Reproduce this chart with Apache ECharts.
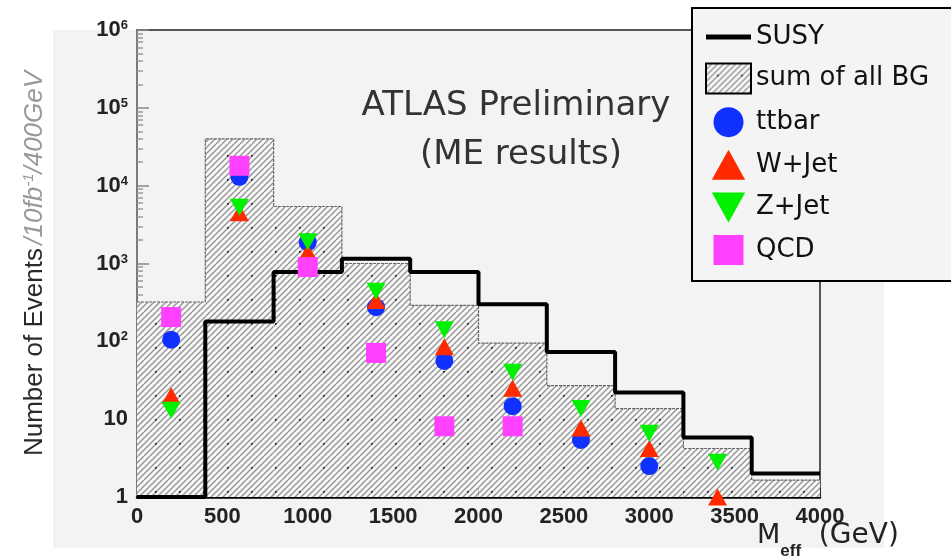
<!DOCTYPE html>
<html>
<head>
<meta charset="utf-8">
<script src="https://cdn.jsdelivr.net/npm/echarts@6/dist/echarts.min.js"></script>
<style>
html,body{margin:0;padding:0;background:#fff;}
#chart{width:951px;height:557px;}
</style>
</head>
<body>
<div id="chart"></div>
<script>
// ---- data ----
const binLow    = [0, 400, 800, 1200, 1600, 2000, 2400, 2800, 3200, 3600];
const binHigh   = [400, 800, 1200, 1600, 2000, 2400, 2800, 3200, 3600, 4000];
const binCenter = [200, 600, 1000, 1400, 1800, 2200, 2600, 3000, 3400, 3800];
const sumBG = [320, 40000, 5400, 1000, 290, 95, 27, 13.7, 4.2, 1.65];
const susy  = [1, 180, 780, 1150, 780, 300, 73, 22, 5.8, 2.0];
const ttbar = [105, 13000, 1880, 275, 56, 14.7, 5.4, 2.5, null, null];
const wjet  = [20, 4500, 1400, 335, 85, 25, 7.7, 4.2, 1.0, null];
const zjet  = [13, 5300, 1900, 440, 141, 40, 13.7, 6.6, 2.8, null];
const qcd   = [205, 18000, 900, 71, 8.1, 8.1, null, null, null, null];
const legendNames = ['SUSY', 'sum of all BG', 'ttbar', 'W+Jet', 'Z+Jet', 'QCD'];

// ---- helpers ----
function hatch() {
  const c = document.createElement('canvas');
  c.width = 24; c.height = 24;
  const g = c.getContext('2d');
  g.fillStyle = '#f8f8f8'; g.fillRect(0, 0, 24, 24);
  g.strokeStyle = '#959595'; g.lineWidth = 1.4;
  for (let k = -24; k <= 48; k += 6) {
    g.beginPath(); g.moveTo(k, 24); g.lineTo(k + 24, 0); g.stroke();
  }
  g.fillStyle = '#111'; g.fillRect(11, 11, 1.6, 1.6);
  return c;
}
const hatchFill = { image: hatch(), repeat: 'repeat' };
const pts = (arr) => binCenter.map((x, i) => [x, arr[i]]).filter(p => p[1] != null);
const stepPts = (arr) => binLow.map((x, i) => [x, arr[i]]).concat([[binHigh[binHigh.length - 1], arr[arr.length - 1]]]);
const histData = binLow.map((x, i) => [x, binHigh[i], sumBG[i]]);

const tickFont = "'Liberation Sans Narrow', 'Liberation Sans', Arial, sans-serif";
const chart = echarts.init(document.getElementById('chart'), null, { renderer: 'canvas' });

chart.setOption({
  backgroundColor: '#ffffff',
  animation: false,
  graphic: [
    { type: 'rect', z: -10, silent: true, shape: { x: 53, y: 30, width: 831, height: 518 }, style: { fill: '#f3f3f3' } },
    { type: 'text', z: 10, silent: true, style: { text: 'ATLAS Preliminary', x: 516, y: 89, textAlign: 'center', fontFamily: 'DejaVu Sans', fontSize: 34, fill: '#333' } },
    { type: 'text', z: 10, silent: true, style: { text: '(ME results)', x: 521, y: 138, textAlign: 'center', fontFamily: 'DejaVu Sans', fontSize: 34, fill: '#333' } },
    { type: 'text', z: 10, silent: true, style: { x: 757, y: 522, text: '{m|M}{s|eff}{g|  (GeV)}',
        rich: {
          m: { fontFamily: 'DejaVu Sans', fontSize: 27, fill: '#222', verticalAlign: 'top', lineHeight: 30 },
          s: { fontFamily: tickFont, fontSize: 17, fontWeight: 'bold', fill: '#222', verticalAlign: 'bottom', lineHeight: 30, padding: [0, 0, -8, 0] },
          g: { fontFamily: 'DejaVu Sans', fontSize: 28, fill: '#222', verticalAlign: 'top', lineHeight: 30 }
        } } }
  ],
  grid: { left: 137, right: 131, top: 30, bottom: 60, show: true, borderColor: '#555', borderWidth: 2, backgroundColor: 'transparent' },
  legend: {
    orient: 'vertical', left: 692, top: 8, selectedMode: false,
    padding: [16, 60, 16, 13], itemWidth: 45, itemHeight: 30, itemGap: 12.6,
    backgroundColor: '#f4f4f4', borderColor: '#000', borderWidth: 2,
    textStyle: { fontFamily: 'DejaVu Sans', fontSize: 26, color: '#111' },
    data: [
      { name: 'SUSY', icon: 'path://M0,0L45,0L45,5L0,5Z' },
      { name: 'sum of all BG', icon: 'rect', itemStyle: { borderColor: '#000', borderWidth: 2 } },
      { name: 'ttbar' }, { name: 'W+Jet' }, { name: 'Z+Jet' }, { name: 'QCD' }
    ]
  },
  xAxis: {
    type: 'value', min: 0, max: 4000, interval: 500,
    axisLine: { lineStyle: { color: '#000', width: 2.5 } },
    axisTick: { inside: true, length: 9, lineStyle: { color: '#222', width: 1 } },
    minorTick: { show: true, splitNumber: 5, length: 5, lineStyle: { color: '#444' } },
    splitLine: { show: false },
    axisLabel: { margin: 9, fontFamily: tickFont, fontWeight: 'bold', fontSize: 22, color: '#222',
      formatter: function (v) { return String(v); } }
  },
  yAxis: {
    type: 'log', logBase: 10, min: 1, max: 1e6, splitNumber: 6,
    name: '{a|Number of Events} {b|/10fb}{c|-1}{b|/400GeV}',
    nameLocation: 'middle', nameGap: 88,
    nameTextStyle: {
      rich: {
        a: { fontFamily: tickFont, fontSize: 26, color: '#2a2a2a', lineHeight: 28 },
        b: { fontFamily: tickFont, fontSize: 26, color: '#999', fontStyle: 'italic', lineHeight: 28 },
        c: { fontFamily: tickFont, fontSize: 15, color: '#999', fontStyle: 'italic', verticalAlign: 'top', lineHeight: 15 }
      }
    },
    axisLine: { lineStyle: { color: '#888', width: 1.5 } },
    axisTick: { inside: true, length: 12, lineStyle: { color: '#888', width: 1.5 } },
    minorTick: { show: true, splitNumber: 9, length: 6, lineStyle: { color: '#999', width: 1.5 } },
    splitLine: { show: false },
    axisLabel: {
      margin: 9, fontFamily: tickFont, fontWeight: 'bold', fontSize: 22, color: '#222',
      formatter: function (v) {
        const e = Math.round(Math.log10(v));
        if (e === 0) return '1';
        if (e === 1) return '10';
        return '10{sup|' + e + '}';
      },
      rich: { sup: { fontFamily: tickFont, fontWeight: 'bold', fontSize: 13, color: '#222', verticalAlign: 'top', lineHeight: 12 } }
    }
  },
  series: [
    {
      name: 'sum of all BG', type: 'custom', coordinateSystem: 'cartesian2d',
      itemStyle: { color: hatchFill },
      encode: { x: [0, 1], y: 2 },
      data: histData,
      renderItem: function (params, api) {
        const p0 = api.coord([api.value(0), api.value(2)]);
        const p1 = api.coord([api.value(1), 1]);
        return { type: 'rect', shape: { x: p0[0], y: p0[1], width: p1[0] - p0[0], height: p1[1] - p0[1] },
                 style: { fill: hatchFill } };
      },
      z: 1
    },
    {
      name: 'BG outline', type: 'line', step: 'end', symbol: 'none', data: stepPts(sumBG),
      lineStyle: { color: '#666', width: 1.2, type: [3, 1] }, z: 2
    },
    {
      name: 'SUSY', type: 'line', step: 'end', symbol: 'none', data: stepPts(susy),
      itemStyle: { color: '#000' }, lineStyle: { color: '#000', width: 4 }, z: 3
    },
    { name: 'ttbar', type: 'scatter', symbol: 'circle', symbolSize: 18, data: pts(ttbar), itemStyle: { color: '#1030ff', opacity: 1 }, z: 4 },
    { name: 'W+Jet', type: 'scatter', symbol: 'path://M5,0L10,9L0,9Z', symbolSize: [19, 17], data: pts(wjet), itemStyle: { color: '#ff2a00', opacity: 1 }, z: 4 },
    { name: 'Z+Jet', type: 'scatter', symbol: 'path://M0,0L10,0L5,9Z', symbolSize: [19, 17], data: pts(zjet), itemStyle: { color: '#00f000', opacity: 1 }, z: 4 },
    { name: 'QCD', type: 'scatter', symbol: 'path://M0,0L10,0L10,10L0,10Z', symbolSize: 20, data: pts(qcd), itemStyle: { color: '#ff40ff', opacity: 1 }, z: 4 }
  ]
});
</script>
</body>
</html>
